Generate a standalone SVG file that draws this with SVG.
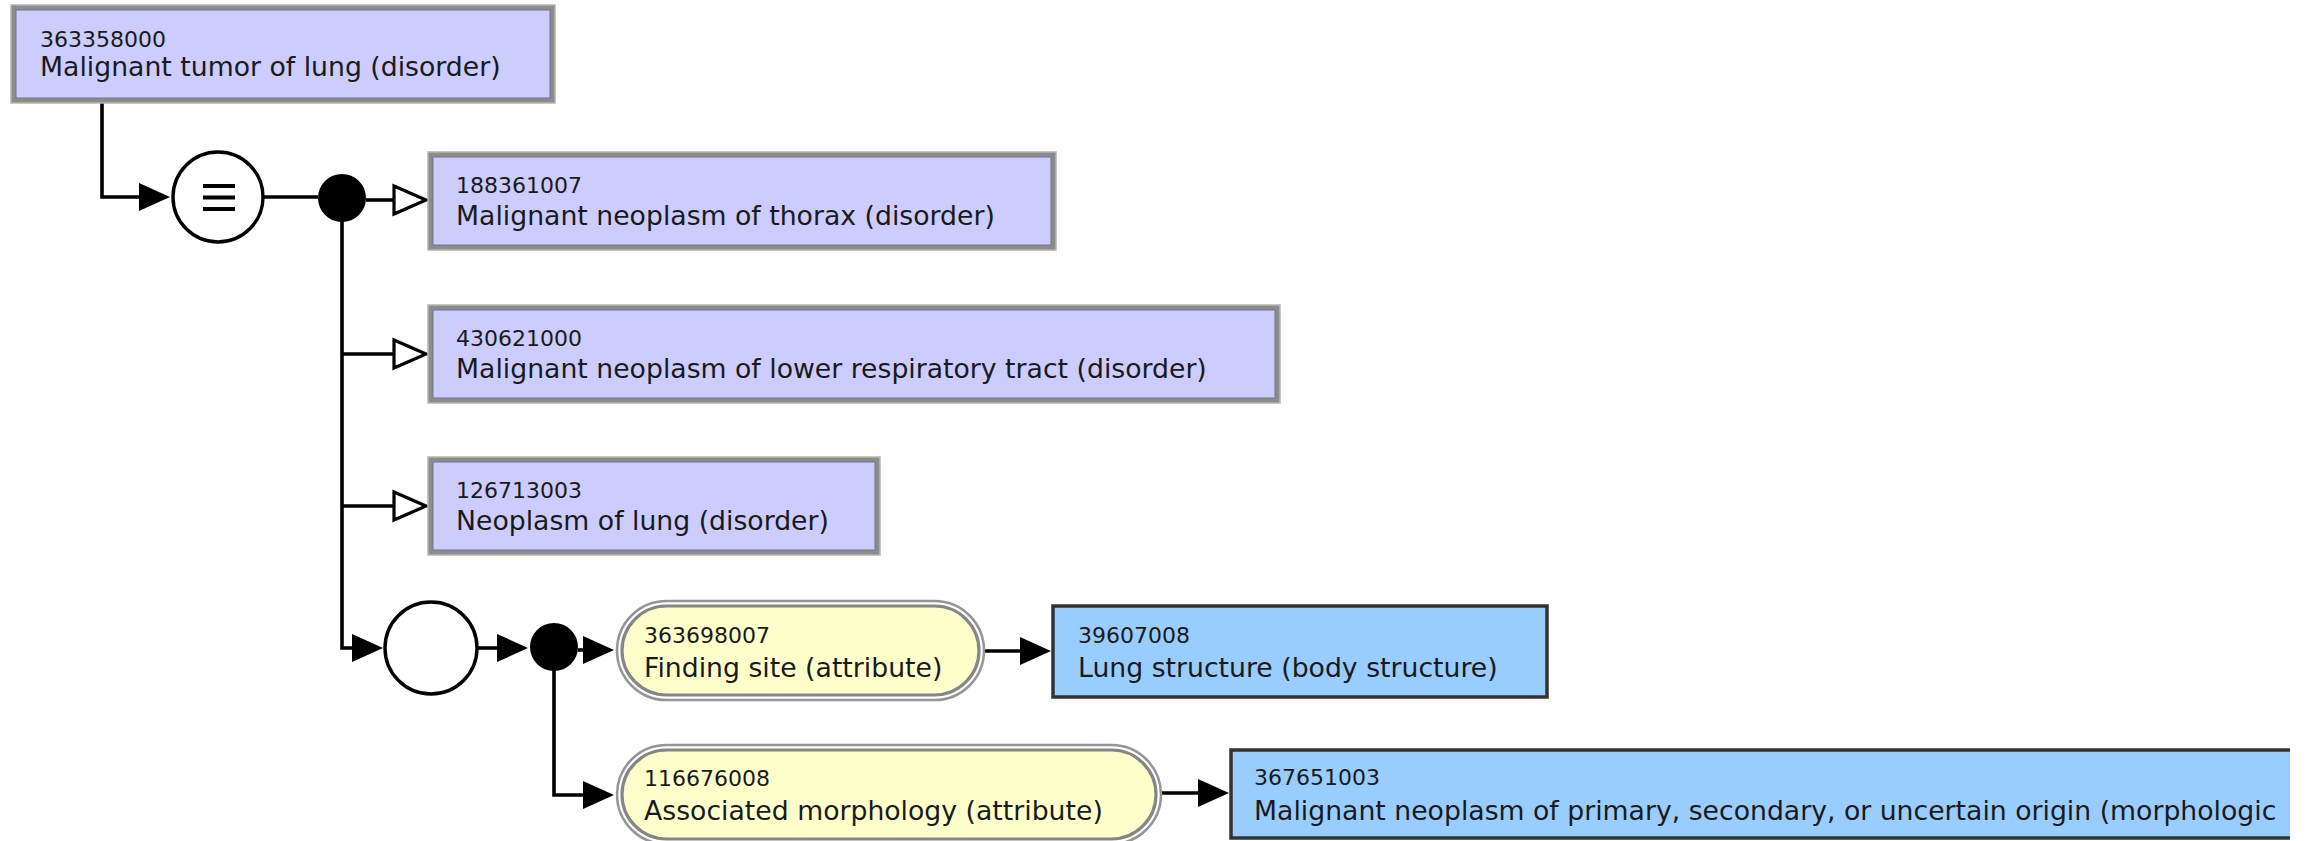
<svg xmlns="http://www.w3.org/2000/svg" width="2308" height="841" viewBox="0 0 2308 841">
<style>
text{font-family:"DejaVu Sans","Liberation Sans",sans-serif;fill:#1a1a1a}
.id{font-size:22px}
.nm{font-size:26.7px}
.pOut{fill:#8c8c8c;stroke:#b5b5b5;stroke-width:1.5}
.pIn{fill:#CCCCFF;stroke:#74748e;stroke-width:1}
.yOut{fill:#ffffff;stroke:#959595;stroke-width:2.5}
.yIn{fill:#FFFFCC;stroke:#868686;stroke-width:3.2}
.blue{fill:#99CCFF;stroke:#333333;stroke-width:3.5}
.ln{fill:none;stroke:#000;stroke-width:3.6}
.circ{fill:#fff;stroke:#000;stroke-width:3.4}
.dot{fill:#000}
</style>
<defs>
<marker id="fa" markerUnits="userSpaceOnUse" markerWidth="34" markerHeight="30" refX="0" refY="14" orient="auto" overflow="visible">
<path d="M0,0 L31,14 L0,28 Z" fill="#000"/>
</marker>
<marker id="oa" markerUnits="userSpaceOnUse" markerWidth="36" markerHeight="32" refX="0" refY="14" orient="auto" overflow="visible">
<path d="M0,0 L32,14 L0,28 Z" fill="#fff" stroke="#000" stroke-width="3.2"/>
</marker>
<clipPath id="clipR"><rect x="0" y="0" width="2290" height="841"/></clipPath>
</defs>

<g id="connectors">
<path class="ln" d="M102,103 V197 H139" marker-end="url(#fa)"/>
<path class="ln" d="M263,197 H318"/>
<path class="ln" d="M366,200 H394" marker-end="url(#oa)"/>
<path class="ln" d="M342,198 V648 H352" marker-end="url(#fa)"/>
<path class="ln" d="M342,354 H394" marker-end="url(#oa)"/>
<path class="ln" d="M342,506 H394" marker-end="url(#oa)"/>
<path class="ln" d="M477,648 H497" marker-end="url(#fa)"/>
<path class="ln" d="M578,650 H583" marker-end="url(#fa)"/>
<path class="ln" d="M554,647 V795 H583" marker-end="url(#fa)"/>
<path class="ln" d="M984,651 H1020" marker-end="url(#fa)"/>
<path class="ln" d="M1161,793 H1198" marker-end="url(#fa)"/>
</g>

<g id="equiv">
<circle class="circ" cx="218" cy="197" r="45"/>
<path d="M203,186 H235 M203,197.5 H235 M203,209 H235" stroke="#000" stroke-width="4"/>
</g>
<g id="conj1"><circle class="dot" cx="342" cy="198" r="24"/></g>
<g id="group1"><circle class="circ" cx="431" cy="648" r="46"/></g>
<g id="conj2"><circle class="dot" cx="554" cy="647" r="24"/></g>

<g id="n363358000">
<rect class="pOut" x="11" y="5" width="544" height="98"/>
<rect class="pIn" x="16" y="10" width="534" height="88"/>
<text class="id" x="40" y="47">363358000</text>
<text class="nm" x="40" y="76">Malignant tumor of lung (disorder)</text>
</g>

<g id="n188361007">
<rect class="pOut" x="428" y="152" width="628" height="98"/>
<rect class="pIn" x="433" y="157" width="618" height="88"/>
<text class="id" x="456" y="193">188361007</text>
<text class="nm" x="456" y="225">Malignant neoplasm of thorax (disorder)</text>
</g>

<g id="n430621000">
<rect class="pOut" x="428" y="305" width="852" height="98"/>
<rect class="pIn" x="433" y="310" width="842" height="88"/>
<text class="id" x="456" y="346">430621000</text>
<text class="nm" x="456" y="378">Malignant neoplasm of lower respiratory tract (disorder)</text>
</g>

<g id="n126713003">
<rect class="pOut" x="428" y="457" width="452" height="98"/>
<rect class="pIn" x="433" y="462" width="442" height="88"/>
<text class="id" x="456" y="498">126713003</text>
<text class="nm" x="456" y="530">Neoplasm of lung (disorder)</text>
</g>

<g id="n363698007">
<rect class="yOut" x="617" y="601" width="367" height="99" rx="49.5" ry="49.5"/>
<rect class="yIn" x="622" y="606" width="357" height="89" rx="44.5" ry="44.5"/>
<text class="id" x="644" y="643">363698007</text>
<text class="nm" x="644" y="677">Finding site (attribute)</text>
</g>

<g id="n116676008">
<rect class="yOut" x="617" y="745" width="544" height="99" rx="49.5" ry="49.5"/>
<rect class="yIn" x="622" y="750" width="534" height="89" rx="44.5" ry="44.5"/>
<text class="id" x="644" y="786">116676008</text>
<text class="nm" x="644" y="820">Associated morphology (attribute)</text>
</g>

<g id="n39607008">
<rect class="blue" x="1053" y="606" width="494" height="91"/>
<text class="id" x="1078" y="643">39607008</text>
<text class="nm" x="1078" y="677">Lung structure (body structure)</text>
</g>

<g id="n367651003" clip-path="url(#clipR)">
<rect class="blue" x="1231" y="750" width="1200" height="88"/>
<text class="id" x="1254" y="785">367651003</text>
<text class="nm" x="1254" y="820">Malignant neoplasm of primary, secondary, or uncertain origin (morphologic</text>
</g>
</svg>
